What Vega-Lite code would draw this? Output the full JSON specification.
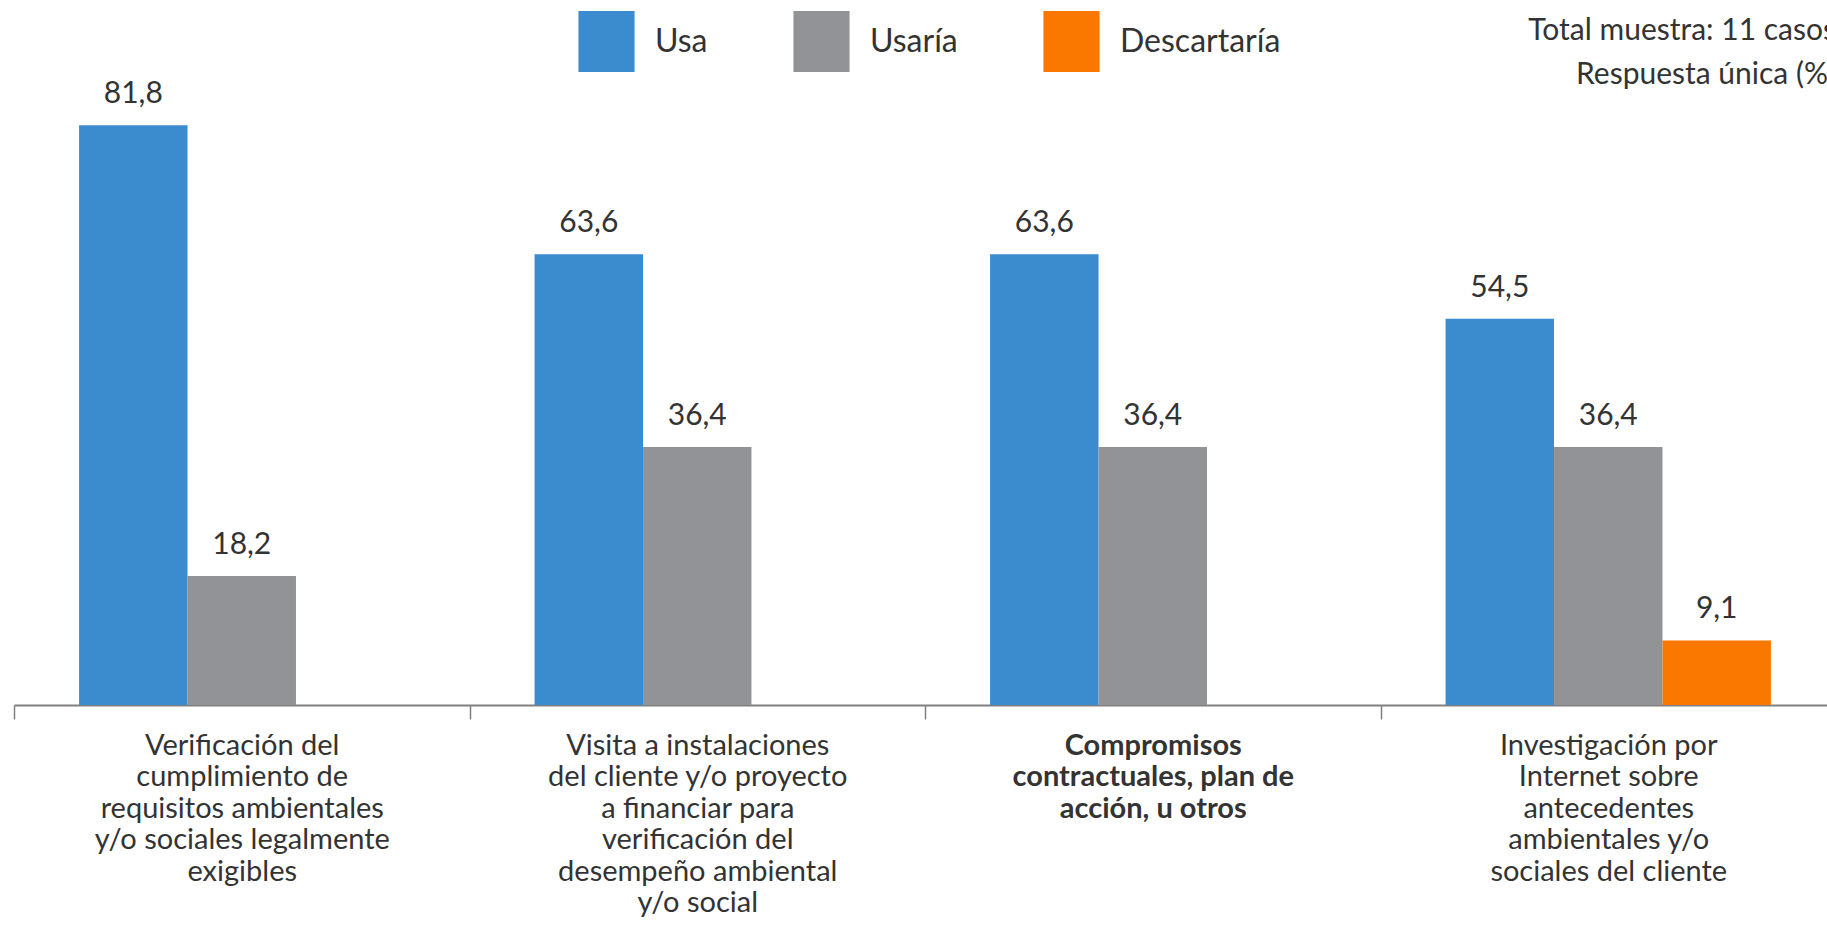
{
  "$schema": "https://vega.github.io/schema/vega-lite/v6.json",
  "autosize": "none",
  "width": 1822,
  "height": 638,
  "padding": {"left": 14, "top": 67, "right": 0, "bottom": 240},
  "background": "white",
  "config": {
    "view": {"stroke": null},
    "font": "Lato",
    "locale": {"number": {"decimal": ",", "thousands": ".", "grouping": [3], "currency": ["", ""]}}
  },
  "title": {
    "text": ["Total muestra: 11 casos", "Respuesta única (%)"],
    "anchor": "end",
    "frame": "group",
    "orient": "top",
    "baseline": "alphabetic",
    "offset": 27,
    "dy": 130,
    "fontSize": 30,
    "fontWeight": "normal",
    "lineHeight": 44,
    "color": "#333333",
    "font": "Lato"
  },
  "data": {
    "values": [
      {"actividad": "Verificación del|cumplimiento de|requisitos ambientales|y/o sociales legalmente|exigibles", "respuesta": "Usa", "pct": 81.8},
      {"actividad": "Verificación del|cumplimiento de|requisitos ambientales|y/o sociales legalmente|exigibles", "respuesta": "Usaría", "pct": 18.2},
      {"actividad": "Visita a instalaciones|del cliente y/o proyecto|a financiar para|verificación del|desempeño ambiental|y/o social", "respuesta": "Usa", "pct": 63.6},
      {"actividad": "Visita a instalaciones|del cliente y/o proyecto|a financiar para|verificación del|desempeño ambiental|y/o social", "respuesta": "Usaría", "pct": 36.4},
      {"actividad": "Compromisos|contractuales, plan de|acción, u otros", "respuesta": "Usa", "pct": 63.6},
      {"actividad": "Compromisos|contractuales, plan de|acción, u otros", "respuesta": "Usaría", "pct": 36.4},
      {"actividad": "Investigación por|Internet sobre|antecedentes|ambientales y/o|sociales del cliente", "respuesta": "Usa", "pct": 54.5},
      {"actividad": "Investigación por|Internet sobre|antecedentes|ambientales y/o|sociales del cliente", "respuesta": "Usaría", "pct": 36.4},
      {"actividad": "Investigación por|Internet sobre|antecedentes|ambientales y/o|sociales del cliente", "respuesta": "Descartaría", "pct": 9.1}
    ]
  },
  "encoding": {
    "x": {
      "field": "actividad",
      "type": "nominal",
      "sort": null,
      "scale": {"paddingInner": 0, "paddingOuter": 0},
      "axis": {
        "title": null,
        "labelAngle": 0,
        "labelExpr": "split(datum.label, '|')",
        "labelFontSize": 29,
        "labelLineHeight": 31.5,
        "labelColor": "#333333",
        "labelBaseline": "top",
        "labelPadding": 12,
        "labelLimit": 0,
        "labelFontWeight": {"condition": {"test": "indexof(datum.label, 'Compromisos') >= 0", "value": "bold"}, "value": "normal"},
        "tickBand": "extent",
        "tickSize": 14,
        "tickColor": "#808080",
        "tickWidth": 1.5,
        "domainColor": "#808080",
        "domainWidth": 2
      }
    },
    "xOffset": {
      "field": "respuesta",
      "type": "nominal",
      "scale": {"domain": ["Usa", "Usaría", "Descartaría"], "paddingInner": 0, "paddingOuter": 0.6}
    },
    "y": {
      "field": "pct",
      "type": "quantitative",
      "scale": {"domain": [0, 90], "nice": false},
      "axis": null
    }
  },
  "layer": [
    {
      "mark": {"type": "bar"},
      "encoding": {
        "color": {
          "field": "respuesta",
          "type": "nominal",
          "scale": {"domain": ["Usa", "Usaría", "Descartaría"], "range": ["#3B8BCF", "#929396", "#FA7700"]},
          "legend": {
            "title": null,
            "orient": "none",
            "direction": "horizontal",
            "legendX": 562,
            "legendY": -56,
            "symbolType": "M-0.92,-1H0.92V1H-0.92Z",
            "symbolSize": 3721,
            "symbolStrokeWidth": 0,
            "symbolOpacity": 1,
            "labelFontSize": 32,
            "labelColor": "#333333",
            "labelOffset": 18,
            "columnPadding": 83,
            "labelLimit": 0
          }
        }
      }
    },
    {
      "mark": {"type": "text", "baseline": "bottom", "dy": -16, "fontSize": 30, "color": "#333333"},
      "encoding": {
        "text": {"field": "pct", "type": "quantitative", "format": ".1f"}
      }
    }
  ]
}
